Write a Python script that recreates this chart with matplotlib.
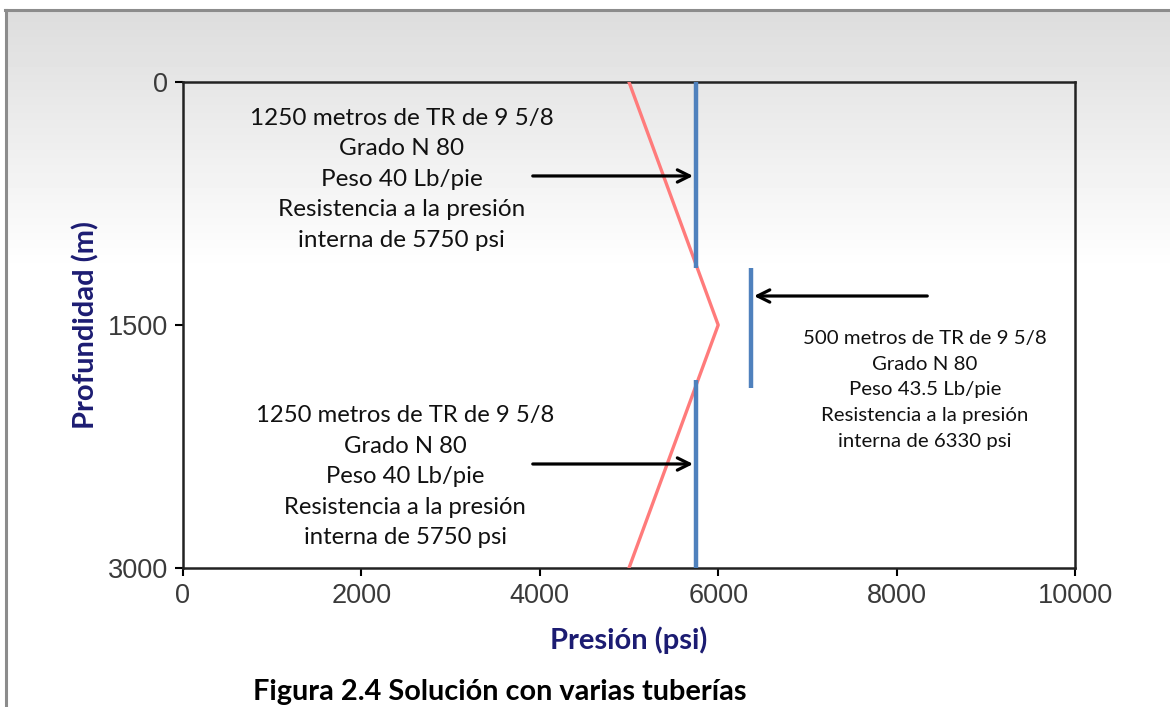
import numpy as np
import matplotlib
matplotlib.use("Agg")
import matplotlib.pyplot as plt
from matplotlib.lines import Line2D

# datos
presion_carga = [5000, 6000, 5000]      # linea roja
prof_carga = [0, 1500, 3000]
tr_presion = [5750, 6370, 5750]         # tramos de TR (azul)
tr_ini = [0, 1150, 1840]
tr_fin = [1150, 1890, 3000]
xticks = [0, 2000, 4000, 6000, 8000, 10000]
yticks = [0, 1500, 3000]

txt1 = "1250 metros de TR de 9 5/8\nGrado N 80\nPeso 40 Lb/pie\nResistencia a la presión\ninterna de 5750 psi"
txt2 = "500 metros de TR de 9 5/8\nGrado N 80\nPeso 43.5 Lb/pie\nResistencia a la presión\ninterna de 6330 psi"
txt3 = txt1

W, H = 1170, 707
fig = plt.figure(figsize=(W/100, H/100), dpi=100)

# fondo degradado
bg = fig.add_axes([0, 0, 1, 1], zorder=-10)
img = np.ones((H, W))
rows = np.arange(H)
col = np.where(rows < 10, 1.0, np.clip(0.865 + 0.135*(rows-10)/260.0, 0, 1))
img[:, :] = col[:, None]
img[:, :6] = 1.0
bg.imshow(img, cmap="gray", vmin=0, vmax=1, extent=[0, 1, 0, 1], aspect="auto", interpolation="nearest")
bg.axis("off")
fig.add_artist(Line2D([5/W, 1], [1-10/H, 1-10/H], color="#8c8c8c", lw=2.2))
fig.add_artist(Line2D([6/W, 6/W], [0, 1-10/H], color="#8c8c8c", lw=2.2))

ax = fig.add_axes([183/W, 1-568/H, (1075-183)/W, (568-82)/H])
ax.set_facecolor("none")
ax.plot(presion_carga, prof_carga, color="#ff7b7b", lw=2.4, zorder=3)
ax.vlines(tr_presion, tr_ini, tr_fin, color="#4f81bd", lw=3.2, zorder=4)

ax.set_xlim(0, 10000)
ax.set_ylim(3000, 0)
ax.set_xticks(xticks)
ax.set_yticks(yticks)
ax.tick_params(direction="out", length=6, width=1.5, labelsize=19.5, labelcolor="#3a3a3a", pad=5)
for t in ax.get_xticklabels() + ax.get_yticklabels():
    t.set_family(["Liberation Sans", "DejaVu Sans"])
for s in ax.spines.values():
    s.set_linewidth(1.8)
    s.set_color("#222222")

lab = dict(family=["Lato", "DejaVu Sans"], fontweight="bold", color="#1c1c72", fontsize=21)
ax.set_xlabel("Presión (psi)", labelpad=12, **lab)
ax.set_ylabel("Profundidad (m)", labelpad=6, **lab)

fnt = ["Lato", "DejaVu Sans"]
ax.text(2450, 600, txt1, ha="center", va="center", fontsize=17.5, family=fnt,
        linespacing=1.56, color="#111111", clip_on=False)
ax.text(2489, 2438, txt3, ha="center", va="center", fontsize=17.2, family=fnt,
        linespacing=1.56, color="#111111", clip_on=False)
ax.text(8318, 1901, txt2, ha="center", va="center", fontsize=14.7, family=fnt,
        linespacing=1.62, color="#111111", clip_on=False)

flecha = dict(arrowstyle="->", color="black", lw=2.3, mutation_scale=22)
ax.annotate("", xy=(5750, 580), xytext=(3890, 580), arrowprops=flecha, zorder=5)
ax.annotate("", xy=(6370, 1321), xytext=(8375, 1321), arrowprops=flecha, zorder=5)
ax.annotate("", xy=(5750, 2358), xytext=(3890, 2358), arrowprops=flecha, zorder=5)

fig.text(500/W, 1-692/H, "Figura 2.4 Solución con varias tuberías", ha="center", va="center",
         fontsize=20.8, fontweight="bold", family=fnt, color="black")

fig.savefig("out.png", dpi=100)
